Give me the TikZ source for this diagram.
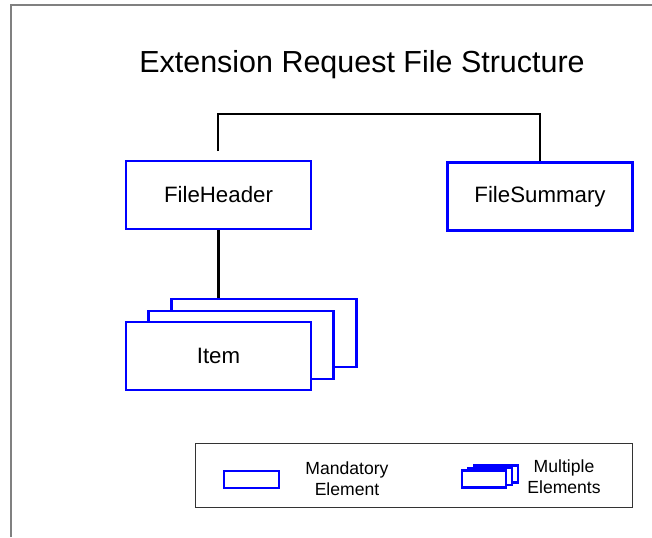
\documentclass[tikz,border=0pt]{standalone}
\usepackage{fontspec}
\setmainfont{Liberation Sans}
\definecolor{boxblue}{HTML}{0000FF}
\definecolor{framegray}{HTML}{808080}

\begin{document}
\begin{tikzpicture}[x=0.03cm, y=-0.03cm]
    \useasboundingbox (0, 0) rectangle (652, 537);
    \begin{scope}[elem/.style={draw=boxblue, fill=white, line width=2.4pt, inner sep=0pt, minimum width=5.55cm, minimum height=2.04cm, font=\fontsize{19}{22}\selectfont},
                  icon/.style={draw=boxblue, fill=white, line width=2.4pt, inner sep=0pt},
                  legtext/.style={align=center, font=\fontsize{15}{18}\selectfont},
                  link/.style={draw=black, line width=2.4pt}]
        % page frame
        \draw[framegray, line width=1.2pt] (11, 537) -- (11, 5) -- (652, 5);
        \node[font=\fontsize{26}{30}\selectfont] (title) at (362, 65) {Extension Request File Structure};

        \node[elem] (hdr) at (218.5, 195) {FileHeader};
        \node[elem] (sum) at (540, 196.5) {FileSummary};
        \node[elem] (item3) at (264, 333) {};
        \node[elem] (item2) at (241, 345) {};
        \node[elem] (item1) at (218.5, 356) {Item};

        \coordinate (hdrtop) at (218, 151);
        \draw[link] (hdrtop) -- ++(0, -37) -| (sum.north);
        \draw[link] (hdr.south) -- (hdr.south |- item3.north);

        % legend
        \node[draw=black!80, line width=0.8pt, minimum width=13.11cm, minimum height=1.92cm, inner sep=0pt] (legend) at (413.5, 475) {};
        \node[icon, minimum width=1.65cm, minimum height=0.51cm] (mand) at (251.5, 479.5) {};
        \node[legtext] (mandtxt) at (347, 479) {Mandatory\\Element};
        \node[icon, minimum width=1.32cm, minimum height=0.51cm] (multi3) at (496, 474) {};
        \node[icon, minimum width=1.32cm, minimum height=0.51cm] (multi2) at (490, 476.5) {};
        \node[icon, minimum width=1.32cm, minimum height=0.51cm] (multi1) at (484, 479) {};
        \node[legtext] (multitxt) at (564, 477) {Multiple\\Elements};
    \end{scope}
\end{tikzpicture}
\end{document}
